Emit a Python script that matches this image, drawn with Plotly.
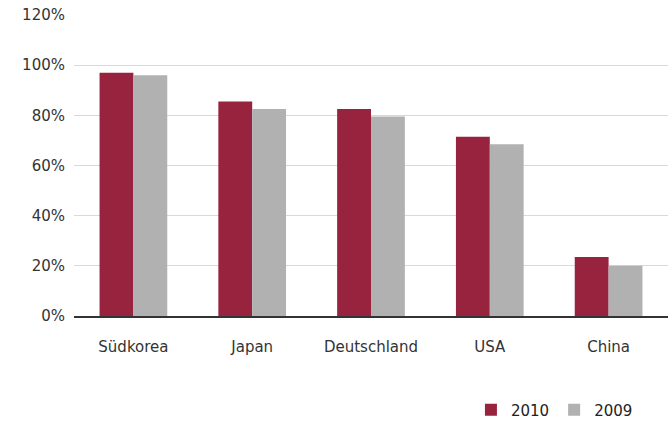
import plotly.graph_objects as go

countries = ["Südkorea", "Japan", "Deutschland", "USA", "China"]
values_2010 = [0.97, 0.855, 0.825, 0.715, 0.235]
values_2009 = [0.96, 0.825, 0.795, 0.685, 0.20]
y_ticks = [0, 0.2, 0.4, 0.6, 0.8, 1.0, 1.2]

fig = go.Figure()
fig.add_trace(go.Bar(name="2010", x=countries, y=values_2010,
                     marker=dict(color="#98233f", line=dict(width=0))))
fig.add_trace(go.Bar(name="2009", x=countries, y=values_2009,
                     marker=dict(color="#b1b1b1", line=dict(width=0))))

font_family = "DejaVu Sans, Liberation Sans, sans-serif"
fig.update_layout(
    width=668, height=421,
    margin=dict(l=74, r=0, t=15, b=105, autoexpand=False),
    paper_bgcolor="white", plot_bgcolor="white",
    barmode="group", bargap=0.43, bargroupgap=0,
    font=dict(family=font_family, size=15, color="#333333"),
    showlegend=True,
    legend=dict(orientation="h", xref="container", yref="container",
                x=0.955, xanchor="right", y=0.026, yanchor="middle",
                font=dict(size=15, color="#222222"), traceorder="normal",
                itemwidth=30),
    xaxis=dict(showline=True, linecolor="#333333", linewidth=1.5,
               ticks="", ticklabelstandoff=16, tickfont=dict(size=15),
               automargin=False),
    yaxis=dict(range=[0, 1.2], tickvals=y_ticks, tickformat=".0%",
               showgrid=True, gridcolor="#d9d9d9", gridwidth=1.2,
               zeroline=False, ticks="", ticklabelstandoff=8,
               tickfont=dict(size=15), automargin=False),
)
fig.write_html("out.html")
